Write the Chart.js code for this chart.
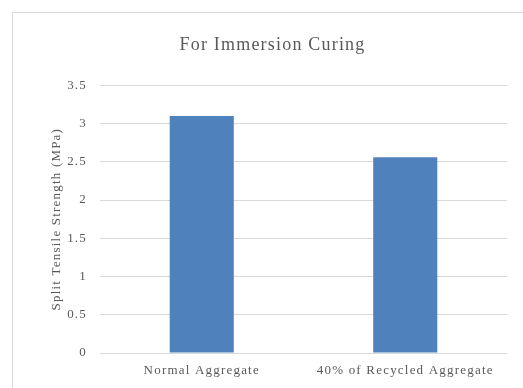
<!DOCTYPE html>
<html>
<head>
<meta charset="utf-8">
<script src="https://cdn.jsdelivr.net/npm/chart.js@4/dist/chart.umd.min.js"></script>
<style>
  html, body { margin: 0; padding: 0; background: #ffffff; }
  #wrap { width: 523px; height: 388px; position: relative; }
</style>
</head>
<body>
<div id="wrap"><canvas id="c" width="523" height="388"></canvas></div>
<script>
// Split tensile strength for immersion curing
const categories = ['Normal Aggregate', '40% of Recycled Aggregate'];
const strengthMPa = [3.10, 2.56];
const yTicks = [0, 0.5, 1, 1.5, 2, 2.5, 3, 3.5];

const TEXT = '#595959';
const GRID = '#d9d9d9';
const SERIF = '"Liberation Serif", "Times New Roman", serif';
const SPACING = '1.2px';

// wider letter spacing for all chart text, applied before measuring and drawing
const spacingPlugin = {
  id: 'spacing',
  beforeLayout(chart) { chart.ctx.letterSpacing = SPACING; },
  beforeDraw(chart) { chart.ctx.letterSpacing = SPACING; }
};

// light frame around the chart area (left and top edges)
const framePlugin = {
  id: 'frame',
  beforeDraw(chart) {
    const ctx = chart.ctx;
    ctx.save();
    ctx.fillStyle = '#ffffff';
    ctx.fillRect(0, 0, chart.width, chart.height);
    ctx.strokeStyle = '#d9d9d9';
    ctx.lineWidth = 1;
    ctx.beginPath();
    ctx.moveTo(12.5, chart.height);
    ctx.lineTo(12.5, 12.5);
    ctx.lineTo(chart.width, 12.5);
    ctx.stroke();
    ctx.restore();
  }
};

new Chart(document.getElementById('c'), {
  type: 'bar',
  data: {
    labels: categories,
    datasets: [{
      label: 'Split Tensile Strength',
      data: strengthMPa,
      backgroundColor: '#4f81bd',
      borderWidth: 0,
      barPercentage: 0.63,
      categoryPercentage: 0.5
    }]
  },
  options: {
    responsive: false,
    animation: false,
    layout: { padding: { left: 38, right: 16, top: 0, bottom: 0 } },
    plugins: {
      legend: { display: false },
      tooltip: { enabled: false },
      title: {
        display: true,
        text: 'For Immersion Curing',
        color: TEXT,
        font: { family: SERIF, size: 18, weight: 'normal', lineHeight: 1.2 },
        padding: { top: 34.2, bottom: 29.5 }
      }
    },
    scales: {
      x: {
        grid: { display: false, drawTicks: false },
        border: { display: false },
        ticks: {
          color: TEXT,
          font: { family: SERIF, size: 13 },
          padding: 10,
          maxRotation: 0
        },
        afterFit(scale) { scale.height = 35; }
      },
      y: {
        min: 0,
        max: 3.5,
        afterBuildTicks(scale) { scale.ticks = yTicks.map(v => ({ value: v })); },
        grid: { color: GRID, lineWidth: 1, drawTicks: false },
        border: { display: false },
        ticks: {
          color: TEXT,
          font: { family: SERIF, size: 13 },
          padding: 13,
          callback: (v) => String(v)
        },
        title: {
          display: true,
          text: 'Split Tensile Strength (MPa)',
          color: TEXT,
          font: { family: SERIF, size: 13, lineHeight: 1.2 },
          padding: { top: 11.2, bottom: 0 }
        },
        afterFit(scale) { scale.width = 62; }
      }
    }
  },
  plugins: [spacingPlugin, framePlugin]
});
</script>
</body>
</html>
